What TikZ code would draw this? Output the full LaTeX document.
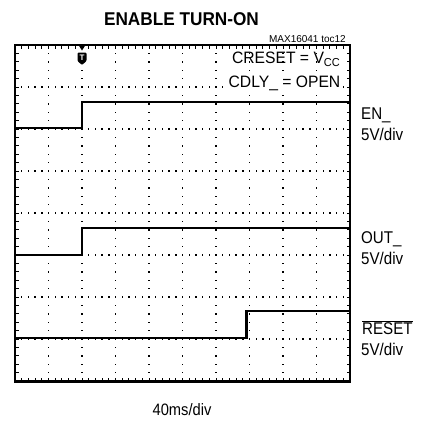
\documentclass[tikz,border=0pt]{standalone}
\usepackage{fontspec}
\setmainfont{Liberation Sans}
\newcommand{\nrw}[1]{\scalebox{0.89}[1]{#1}}
\begin{document}
\begin{tikzpicture}[x=1pt,y=-1pt,
  lbl/.style={font=\fontsize{17}{19}\selectfont, anchor=base west, inner sep=0pt},
  trace/.style={line width=2.5pt, line join=miter},
  frame/.style={line width=2.3pt},
  tick/.style={line width=1pt}]
\useasboundingbox (0,0) rectangle (422,424);
% grid dots
\foreach \j in {1,...,7} {
  \foreach \i in {1,...,49} {
    \fill ({15+\i*6.7-0.7},{45+\j*42-0.7}) rectangle ++(1.4,1.4);
  }}
\foreach \k in {1,...,9} {
  \foreach \m in {1,...,39} {
    \fill ({15+\k*33.5-0.7},{45+\m*8.4-0.7}) rectangle ++(1.4,1.4);
  }}
% edge ticks
\foreach \i in {1,...,49} {
  \draw[tick] ({15+\i*6.7},45) -- ++(0,3.5);
  \draw[tick] ({15+\i*6.7},381.5) -- ++(0,-3.5);
}
\foreach \m in {1,...,39} {
  \draw[tick] (15,{45+\m*8.4}) -- ++(3.5,0);
  \draw[tick] (350,{45+\m*8.4}) -- ++(-3.5,0);
}
% frame
\draw[frame] (15,45) rectangle (350,381.5);
% traces
\draw[trace] (15,128) -- (82,128) -- (82,102) -- (350,102);
\draw[trace] (15,255) -- (82,255) -- (82,228) -- (350,228);
\draw[trace] (15,338) -- (246.5,338) -- (246.5,311) -- (350,311);
% trigger marker
\fill (78.5,45) -- (85.5,45) -- (82,50.5) -- cycle;
\fill[rounded corners=1pt] (77.5,52.5) -- (86.5,52.5) -- (86.5,61) -- (82,65) -- (77.5,61) -- cycle;
\node[text=white, font=\fontsize{8}{8}\bfseries\selectfont, inner sep=0pt] (trig) at (82,58) {T};
% texts
\node[font=\fontsize{18.5}{20}\bfseries\selectfont, anchor=base, inner sep=0pt] (title) at (181.5,25) {\scalebox{0.93}[1]{ENABLE TURN-ON}};
\node[font=\fontsize{10}{11}\selectfont, anchor=base east, inner sep=0pt] (toc) at (346,42.5) {MAX16041 toc12};
\node[font=\fontsize{16.5}{18}\selectfont, anchor=base east, inner sep=0pt] (creset) at (340.5,63.5) {\scalebox{0.95}[1]{CRESET = V\textsubscript{CC}}};
\node[font=\fontsize{16.5}{18}\selectfont, anchor=base east, inner sep=1pt, fill=white] (cdly) at (341.5,87.5) {\scalebox{0.95}[1]{CDLY\_ = OPEN}};
\node[lbl] (en) at (361,119) {\nrw{EN\_}};
\node[lbl] (env) at (361,140) {\nrw{5V/div}};
\node[lbl] (out) at (361,243) {\nrw{OUT\_}};
\node[lbl] (outv) at (361,264) {\nrw{5V/div}};
\node[lbl] (rst) at (362,334) {\nrw{$\overline{\mbox{RESET}}$}};
\node[lbl] (rstv) at (361,355) {\nrw{5V/div}};
\node[font=\fontsize{16.5}{18}\selectfont, anchor=base, inner sep=0pt] (time) at (182,415) {\nrw{40ms/div}};
\end{tikzpicture}
\end{document}
